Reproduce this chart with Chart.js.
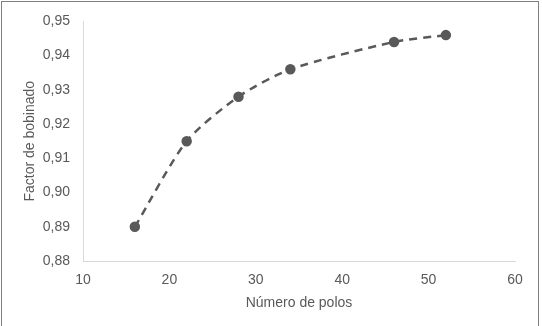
<!DOCTYPE html>
<html><head><meta charset="utf-8">
<script src="https://cdn.jsdelivr.net/npm/chart.js@4/dist/chart.umd.min.js"></script>
<style>html,body{margin:0;padding:0;background:#fff;}#w{width:542px;height:326px;position:relative;}</style>
</head><body><div id="w"><canvas id="c"></canvas></div>
<script>
const polos = [16, 22, 28, 34, 46, 52];
const factor = [0.890, 0.915, 0.928, 0.936, 0.944, 0.946];
const xTitle = 'Número de polos';
const yTitle = 'Factor de bobinado';

const frame = {
  id: 'frame',
  afterDraw(chart) {
    const ctx = chart.ctx;
    ctx.save();
    ctx.strokeStyle = '#7f7f7f';
    ctx.lineWidth = 1;
    ctx.strokeRect(1.5, 1.5, 537, 330);
    ctx.restore();
  }
};

const font = {family: '"Liberation Sans", Arial, sans-serif', size: 14};
new Chart(document.getElementById('c'), {
  type: 'scatter',
  data: {datasets: [{
    data: polos.map((x, i) => ({x: x, y: factor[i]})),
    showLine: true,
    borderColor: '#595959',
    backgroundColor: '#595959',
    borderWidth: 2.5,
    borderDash: [8, 6],
    tension: 0.25,
    pointRadius: 4,
    pointHoverRadius: 4
  }]},
  options: {
    responsive: true, maintainAspectRatio: false, animation: false,
    layout: {padding: {left: 18, top: 20, right: 27, bottom: 0}},
    plugins: {legend: {display: false}, tooltip: {enabled: false}},
    scales: {
      x: {
        type: 'linear', min: 10, max: 60,
        afterFit(s) { s.height = 65; },
        grid: {display: false, drawTicks: false},
        border: {display: true, color: '#d9d9d9', width: 1},
        ticks: {stepSize: 10, color: '#595959', font: font, padding: 11},
        title: {display: true, text: xTitle, color: '#595959', font: font, padding: {top: 4, bottom: 14}}
      },
      y: {
        min: 0.88, max: 0.95,
        afterFit(s) { s.width = 65; },
        grid: {display: false, drawTicks: false},
        border: {display: true, color: '#d9d9d9', width: 1},
        ticks: {stepSize: 0.01, color: '#595959', font: font, padding: 13,
          callback: v => v.toFixed(2).replace('.', ',')},
        title: {display: true, text: yTitle, color: '#595959', font: font, padding: {top: 4, bottom: 4}}
      }
    }
  },
  plugins: [frame]
});
</script></body></html>
